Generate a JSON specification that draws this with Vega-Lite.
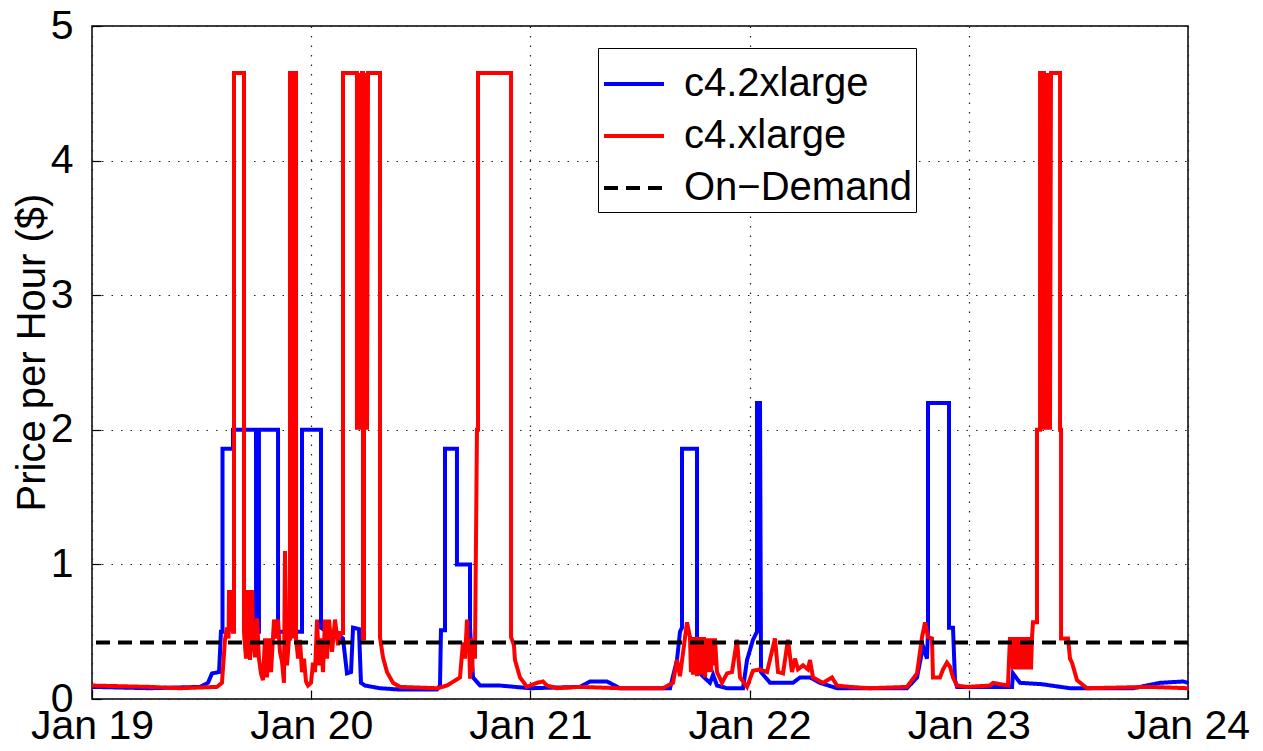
{
  "$schema": "https://vega.github.io/schema/vega-lite/v6.json",
  "width": 1096,
  "height": 673,
  "autosize": "none",
  "padding": {"left": 92, "top": 26, "right": 75, "bottom": 52},
  "background": "white",
  "config": {
    "view": {"stroke": "black", "strokeWidth": 1.5},
    "font": "Liberation Sans",
    "axis": {
      "labelFont": "Liberation Sans", "labelFontSize": 41, "labelColor": "black",
      "titleFont": "Liberation Sans", "titleFontSize": 40, "titleFontWeight": "normal", "titleColor": "black",
      "domain": false, "grid": true, "gridColor": "#222", "gridDash": [1.5, 8], "gridWidth": 1.2,
      "ticks": true, "tickColor": "black", "tickSize": -9, "tickWidth": 1.2
    }
  },
  "layer": [
    {
      "data": {"values": [
        {"h":0,"p":0.09},{"h":6.35,"p":0.08},{"h":11.82,"p":0.09},{"h":12.7,"p":0.12},{"h":13.14,"p":0.19},{"h":13.91,"p":0.2},{"h":14.12,"p":0.5},{"h":14.29,"p":0.5},{"h":14.29,"p":1.86},{"h":15.44,"p":1.86},{"h":15.44,"p":2.0},{"h":17.96,"p":2.0},{"h":17.96,"p":0.5},{"h":18.28,"p":0.5},{"h":18.28,"p":2.0},{"h":20.37,"p":2.0},{"h":20.37,"p":0.5},{"h":22.99,"p":0.5},{"h":22.99,"p":2.0},{"h":25.07,"p":2.0},{"h":25.07,"p":0.53},{"h":26.06,"p":0.48},{"h":26.61,"p":0.5},{"h":27.48,"p":0.45},{"h":27.92,"p":0.19},{"h":28.36,"p":0.2},{"h":28.58,"p":0.53},{"h":29.23,"p":0.52},{"h":29.45,"p":0.12},{"h":29.89,"p":0.1},{"h":31.53,"p":0.08},{"h":33.72,"p":0.07},{"h":37.77,"p":0.07},{"h":38.1,"p":0.1},{"h":38.21,"p":0.51},{"h":38.65,"p":0.51},{"h":38.65,"p":1.86},{"h":39.96,"p":1.86},{"h":39.96,"p":1.0},{"h":41.39,"p":1.0},{"h":41.39,"p":0.53},{"h":41.72,"p":0.16},{"h":42.5,"p":0.1},{"h":44.67,"p":0.1},{"h":47.96,"p":0.08},{"h":53.43,"p":0.09},{"h":54.53,"p":0.13},{"h":56.39,"p":0.13},{"h":57.81,"p":0.08},{"h":63.29,"p":0.08},{"h":64.05,"p":0.29},{"h":64.38,"p":0.5},{"h":64.6,"p":0.53},{"h":64.6,"p":1.86},{"h":66.24,"p":1.86},{"h":66.24,"p":0.21},{"h":67.66,"p":0.12},{"h":68.0,"p":0.18},{"h":68.43,"p":0.1},{"h":69.53,"p":0.08},{"h":71.28,"p":0.08},{"h":71.72,"p":0.29},{"h":72.37,"p":0.44},{"h":72.81,"p":0.5},{"h":72.81,"p":2.2},{"h":73.14,"p":2.2},{"h":73.25,"p":0.2},{"h":74.24,"p":0.12},{"h":76.75,"p":0.12},{"h":77.52,"p":0.16},{"h":78.61,"p":0.16},{"h":79.71,"p":0.12},{"h":81.57,"p":0.08},{"h":89.23,"p":0.08},{"h":90.33,"p":0.16},{"h":90.99,"p":0.39},{"h":91.42,"p":0.3},{"h":91.53,"p":0.5},{"h":91.53,"p":2.2},{"h":93.83,"p":2.2},{"h":93.83,"p":0.53},{"h":94.27,"p":0.53},{"h":94.49,"p":0.14},{"h":94.71,"p":0.09},{"h":100.73,"p":0.09},{"h":100.84,"p":0.19},{"h":101.61,"p":0.12},{"h":104.0,"p":0.11},{"h":107.08,"p":0.08},{"h":113.98,"p":0.08},{"h":116.93,"p":0.12},{"h":119.45,"p":0.13},{"h":120,"p":0.12}
      ]},
      "mark": {"type": "line", "strokeWidth": 4, "strokeJoin": "miter"},
      "encoding": {
        "x": {"field": "h", "type": "quantitative",
              "scale": {"domain": [0, 120], "nice": false, "zero": false},
              "axis": {"values": [0, 24, 48, 72, 96, 120], "labelExpr": "'Jan ' + (19 + datum.value / 24)", "title": null, "labelPadding": 16, "labelFlush": false, "labelOverlap": false, "labelBound": false}},
        "y": {"field": "p", "type": "quantitative",
              "scale": {"domain": [0, 5], "nice": false},
              "axis": {"values": [0, 1, 2, 3, 4, 5], "format": "d", "title": "Price per Hour ($)", "labelPadding": 28, "titleX": -48, "titleY": 326, "titleBaseline": "alphabetic", "titleAngle": -90, "titleAlign": "center"}},
        "color": {"datum": "c4.2xlarge", "title": null,
                  "scale": {"domain": ["c4.2xlarge", "c4.xlarge", "On−Demand"], "range": ["#0000ff", "#ff0000", "#000000"]},
                  "legend": {"orient": "none", "legendX": 506, "legendY": 22, "direction": "vertical", "title": null,
                             "labelFontSize": 40, "labelFont": "Liberation Sans", "labelColor": "black",
                             "symbolType": "stroke", "symbolSize": 3600, "symbolStrokeWidth": 4,
                             "strokeColor": "black", "fillColor": "white", "padding": 4, "rowPadding": -8,
                             "labelOffset": 18, "labelLimit": 400}},
        "strokeDash": {"datum": "c4.2xlarge", "title": null,
                       "scale": {"domain": ["c4.2xlarge", "c4.xlarge", "On−Demand"], "range": [[1, 0], [1, 0], [14, 8]]},
                       "legend": {"orient": "none", "legendX": 506, "legendY": 22, "title": null}},
        "order": {"value": null}
      }
    },
    {
      "data": {"values": [
        {"h":0,"p":0.1},{"h":6.35,"p":0.09},{"h":9.64,"p":0.08},{"h":13.69,"p":0.09},{"h":14.23,"p":0.12},{"h":14.56,"p":0.44},{"h":14.78,"p":0.53},{"h":14.95,"p":0.45},{"h":15.0,"p":0.81},{"h":15.22,"p":0.5},{"h":15.33,"p":0.81},{"h":15.44,"p":0.5},{"h":15.55,"p":0.5},{"h":15.55,"p":4.65},{"h":16.64,"p":4.65},{"h":16.64,"p":0.5},{"h":16.86,"p":0.3},{"h":17.08,"p":0.81},{"h":17.3,"p":0.29},{"h":17.52,"p":0.81},{"h":17.63,"p":0.45},{"h":17.85,"p":0.31},{"h":18.07,"p":0.6},{"h":18.28,"p":0.3},{"h":18.5,"p":0.19},{"h":18.72,"p":0.14},{"h":18.94,"p":0.45},{"h":19.16,"p":0.16},{"h":19.38,"p":0.45},{"h":19.6,"p":0.2},{"h":19.93,"p":0.59},{"h":20.15,"p":0.45},{"h":20.37,"p":0.59},{"h":20.58,"p":0.35},{"h":20.8,"p":0.28},{"h":21.02,"p":0.12},{"h":21.13,"p":1.1},{"h":21.35,"p":0.25},{"h":21.57,"p":0.45},{"h":21.68,"p":0.45},{"h":21.68,"p":4.65},{"h":21.79,"p":4.65},{"h":21.79,"p":0.45},{"h":21.9,"p":4.65},{"h":22.01,"p":4.65},{"h":22.01,"p":0.45},{"h":22.12,"p":4.65},{"h":22.34,"p":4.65},{"h":22.34,"p":0.45},{"h":22.56,"p":0.3},{"h":22.77,"p":0.44},{"h":22.99,"p":0.2},{"h":23.21,"p":0.3},{"h":23.43,"p":0.13},{"h":23.65,"p":0.1},{"h":23.98,"p":0.12},{"h":24.2,"p":0.27},{"h":24.42,"p":0.2},{"h":24.64,"p":0.59},{"h":24.85,"p":0.25},{"h":25.07,"p":0.45},{"h":25.29,"p":0.2},{"h":25.51,"p":0.59},{"h":25.73,"p":0.3},{"h":25.95,"p":0.59},{"h":26.28,"p":0.35},{"h":26.61,"p":0.59},{"h":26.94,"p":0.4},{"h":27.15,"p":0.49},{"h":27.48,"p":0.49},{"h":27.48,"p":4.65},{"h":29.01,"p":4.65},{"h":29.01,"p":2.0},{"h":29.12,"p":4.65},{"h":29.23,"p":2.0},{"h":29.34,"p":4.65},{"h":29.45,"p":2.0},{"h":29.56,"p":4.65},{"h":29.67,"p":4.65},{"h":29.67,"p":0.45},{"h":29.78,"p":0.45},{"h":29.78,"p":4.65},{"h":29.89,"p":2.0},{"h":30.0,"p":4.65},{"h":30.11,"p":2.0},{"h":30.22,"p":4.65},{"h":31.53,"p":4.65},{"h":31.53,"p":0.46},{"h":31.86,"p":0.31},{"h":32.3,"p":0.2},{"h":32.96,"p":0.12},{"h":33.72,"p":0.09},{"h":37.77,"p":0.08},{"h":38.87,"p":0.1},{"h":40.29,"p":0.16},{"h":40.62,"p":0.42},{"h":40.84,"p":0.3},{"h":41.06,"p":0.59},{"h":41.17,"p":0.35},{"h":41.28,"p":0.45},{"h":41.39,"p":0.15},{"h":41.5,"p":0.45},{"h":41.61,"p":0.2},{"h":41.72,"p":0.44},{"h":41.93,"p":0.3},{"h":42.15,"p":2.0},{"h":42.26,"p":2.0},{"h":42.26,"p":4.65},{"h":45.88,"p":4.65},{"h":45.88,"p":0.46},{"h":46.2,"p":0.4},{"h":46.31,"p":0.29},{"h":46.86,"p":0.16},{"h":47.63,"p":0.09},{"h":48.72,"p":0.12},{"h":49.38,"p":0.13},{"h":49.82,"p":0.1},{"h":50.91,"p":0.08},{"h":53.43,"p":0.09},{"h":57.81,"p":0.08},{"h":62.52,"p":0.08},{"h":63.61,"p":0.12},{"h":64.05,"p":0.29},{"h":64.38,"p":0.17},{"h":65.15,"p":0.57},{"h":65.47,"p":0.46},{"h":65.58,"p":0.2},{"h":65.69,"p":0.46},{"h":65.8,"p":0.18},{"h":65.91,"p":0.46},{"h":66.02,"p":0.2},{"h":66.13,"p":0.46},{"h":66.24,"p":0.17},{"h":66.35,"p":0.46},{"h":66.46,"p":0.22},{"h":66.57,"p":0.46},{"h":66.68,"p":0.18},{"h":66.79,"p":0.46},{"h":66.9,"p":0.2},{"h":67.01,"p":0.46},{"h":67.12,"p":0.16},{"h":67.23,"p":0.45},{"h":67.34,"p":0.2},{"h":67.45,"p":0.45},{"h":67.56,"p":0.22},{"h":67.66,"p":0.45},{"h":67.77,"p":0.2},{"h":67.88,"p":0.45},{"h":68.0,"p":0.25},{"h":68.21,"p":0.45},{"h":68.43,"p":0.2},{"h":68.98,"p":0.12},{"h":69.53,"p":0.19},{"h":70.07,"p":0.2},{"h":70.62,"p":0.44},{"h":70.95,"p":0.16},{"h":71.72,"p":0.09},{"h":72.37,"p":0.21},{"h":73.14,"p":0.22},{"h":73.91,"p":0.2},{"h":74.78,"p":0.45},{"h":75.11,"p":0.2},{"h":75.66,"p":0.19},{"h":76.2,"p":0.44},{"h":76.64,"p":0.2},{"h":76.97,"p":0.3},{"h":77.3,"p":0.22},{"h":77.85,"p":0.25},{"h":78.39,"p":0.22},{"h":78.61,"p":0.29},{"h":78.94,"p":0.16},{"h":80.04,"p":0.12},{"h":81.02,"p":0.16},{"h":81.57,"p":0.1},{"h":82.99,"p":0.09},{"h":85.18,"p":0.08},{"h":89.23,"p":0.09},{"h":90.33,"p":0.19},{"h":90.88,"p":0.46},{"h":91.21,"p":0.57},{"h":91.53,"p":0.46},{"h":91.97,"p":0.45},{"h":92.08,"p":0.16},{"h":92.85,"p":0.16},{"h":93.18,"p":0.22},{"h":93.61,"p":0.27},{"h":93.94,"p":0.24},{"h":94.27,"p":0.16},{"h":94.71,"p":0.1},{"h":95.8,"p":0.09},{"h":98.32,"p":0.1},{"h":98.65,"p":0.12},{"h":100.29,"p":0.1},{"h":100.51,"p":0.46},{"h":100.62,"p":0.25},{"h":100.73,"p":0.46},{"h":100.84,"p":0.22},{"h":100.95,"p":0.46},{"h":101.06,"p":0.3},{"h":101.17,"p":0.46},{"h":101.28,"p":0.22},{"h":101.39,"p":0.46},{"h":101.5,"p":0.25},{"h":101.61,"p":0.46},{"h":101.72,"p":0.22},{"h":101.82,"p":0.46},{"h":101.93,"p":0.25},{"h":102.04,"p":0.46},{"h":102.15,"p":0.22},{"h":102.26,"p":0.46},{"h":102.37,"p":0.25},{"h":102.48,"p":0.46},{"h":102.59,"p":0.22},{"h":102.7,"p":0.46},{"h":102.81,"p":0.22},{"h":102.92,"p":0.46},{"h":103.03,"p":0.57},{"h":103.47,"p":0.57},{"h":103.47,"p":2.0},{"h":103.8,"p":2.0},{"h":103.8,"p":4.65},{"h":104.23,"p":4.65},{"h":104.23,"p":2.0},{"h":104.34,"p":4.65},{"h":104.45,"p":2.0},{"h":104.56,"p":4.65},{"h":104.67,"p":2.0},{"h":104.78,"p":4.65},{"h":104.89,"p":2.0},{"h":105.0,"p":4.65},{"h":105.99,"p":4.65},{"h":105.99,"p":2.0},{"h":106.1,"p":2.0},{"h":106.1,"p":0.45},{"h":106.87,"p":0.45},{"h":107.08,"p":0.3},{"h":107.3,"p":0.27},{"h":107.85,"p":0.14},{"h":108.94,"p":0.08},{"h":115.84,"p":0.09},{"h":120,"p":0.08}
      ]},
      "mark": {"type": "line", "strokeWidth": 4, "strokeJoin": "miter"},
      "encoding": {
        "x": {"field": "h", "type": "quantitative"},
        "y": {"field": "p", "type": "quantitative"},
        "color": {"datum": "c4.xlarge"},
        "strokeDash": {"datum": "c4.xlarge"},
        "order": {"value": null}
      }
    },
    {
      "data": {"values": [{"p": 0.419}]},
      "mark": {"type": "rule", "strokeWidth": 4},
      "encoding": {
        "y": {"field": "p", "type": "quantitative"},
        "color": {"datum": "On−Demand"},
        "strokeDash": {"datum": "On−Demand"}
      }
    }
  ]
}
